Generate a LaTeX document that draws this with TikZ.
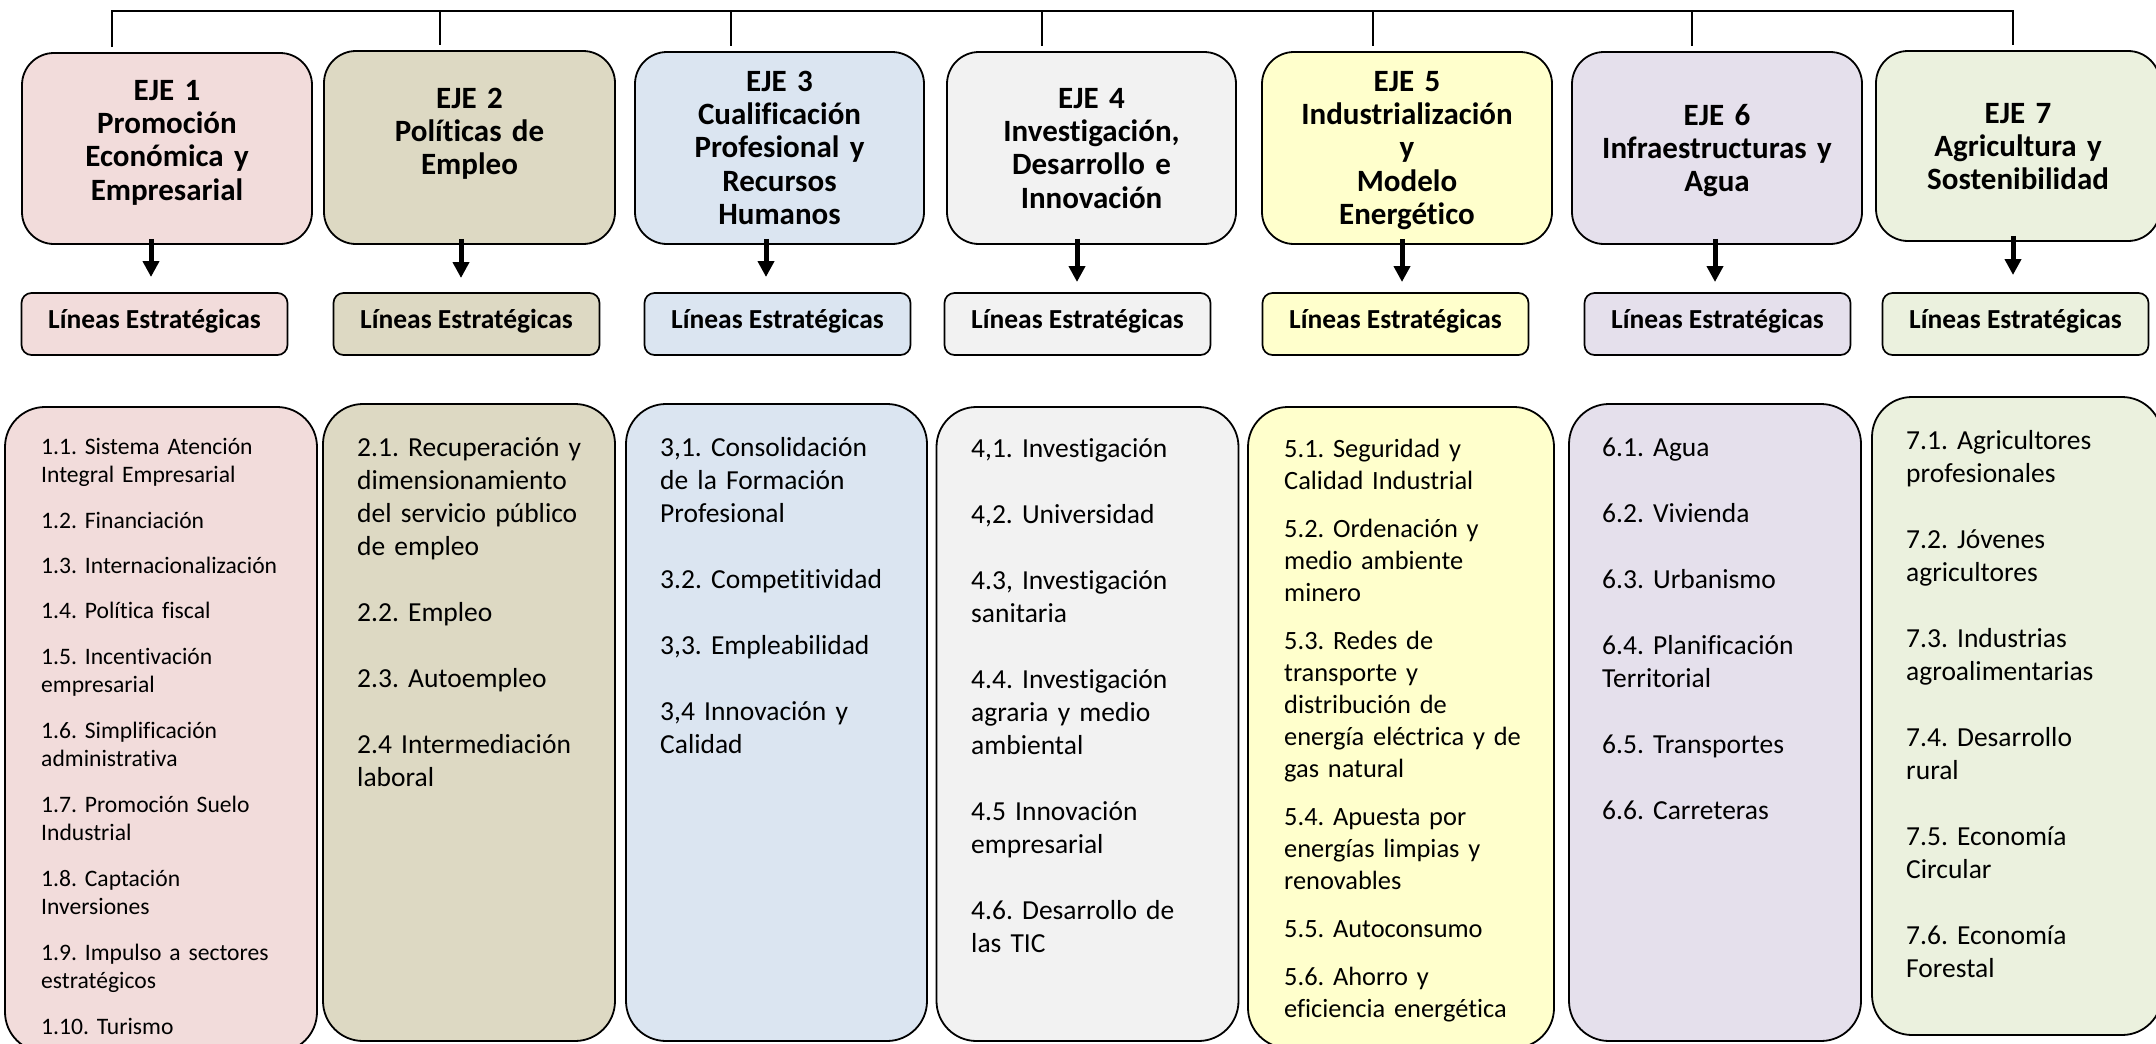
\documentclass[tikz,border=0pt]{standalone}
\usepackage{fontspec}
\setmainfont{Carlito}[Ligatures=NoCommon]
\frenchspacing
\usetikzlibrary{arrows.meta}
\definecolor{ejeA}{HTML}{F2DCDB}
\definecolor{ejeB}{HTML}{DDD9C3}
\definecolor{ejeC}{HTML}{DBE5F1}
\definecolor{ejeD}{HTML}{F2F2F2}
\definecolor{ejeE}{HTML}{FFFFCC}
\definecolor{ejeF}{HTML}{E5E0EC}
\definecolor{ejeG}{HTML}{EBF1DE}
\newcommand{\hdf}{\fontsize{31}{33.4}\selectfont\bfseries}
\newcommand{\lnf}{\fontsize{27.5}{33}\selectfont\bfseries}
\newcommand{\bxf}{\fontsize{27.5}{33}\selectfont}
\newcommand{\bxs}{\fontsize{23.6}{28.6}\selectfont}
\newcommand{\bxm}{\fontsize{26.4}{32}\selectfont}

\begin{document}
\begin{tikzpicture}[x=1pt,y=-1pt,
  eje/.style={draw,line width=1.8pt,rounded corners=32pt,inner sep=0pt},
  lin/.style={draw,line width=1.7pt,rounded corners=10pt,inner sep=0pt,
              minimum width=266pt,minimum height=62pt,text height=14pt,text depth=6pt,font=\lnf},
  lst/.style={draw,line width=1.8pt,rounded corners=40pt,inner sep=0pt},
  hdr/.style={anchor=base,align=center,text width=285pt,inner sep=0pt,font=\hdf},
  txt/.style={anchor=base west,align=left,text width=270pt,inner sep=0pt},
  arr/.style={line width=5pt,shorten <=-6pt,-{Triangle[width=16pt,length=16pt]}},
  con/.style={line width=1.7pt}]
  \useasboundingbox (0,0) rectangle (2156,1044);

  \node[eje,fill=ejeA,minimum width=290pt,minimum height=191pt] (e1) at ( 167.0,148.5) {};
  \node[eje,fill=ejeB,minimum width=291pt,minimum height=193pt] (e2) at ( 469.5,147.5) {};
  \node[eje,fill=ejeC,minimum width=289pt,minimum height=192pt] (e3) at ( 779.5,148.0) {};
  \node[eje,fill=ejeD,minimum width=289pt,minimum height=192pt] (e4) at (1091.5,148.0) {};
  \node[eje,fill=ejeE,minimum width=290pt,minimum height=192pt] (e5) at (1407.0,148.0) {};
  \node[eje,fill=ejeF,minimum width=290pt,minimum height=192pt] (e6) at (1717.0,148.0) {};
  \node[eje,fill=ejeG,minimum width=284pt,minimum height=190pt] (e7) at (2018.0,146.0) {};

  \node[hdr] (h1) at ( 167.0,100) {EJE 1\\Promoción\\Económica y\\Empresarial};
  \node[hdr] (h2) at ( 469.5,108) {EJE 2\\Políticas de\\Empleo};
  \node[hdr] (h3) at ( 779.5, 91) {EJE 3\\Cualificación\\Profesional y\\Recursos\\Humanos};
  \node[hdr] (h4) at (1091.5,108) {EJE 4\\Investigación,\\Desarrollo e\\Innovación};
  \node[hdr] (h5) at (1407.0, 91) {EJE 5\\Industrialización\\y\\Modelo\\Energético};
  \node[hdr] (h6) at (1717.0,125) {EJE 6\\Infraestructuras y\\Agua};
  \node[hdr] (h7) at (2018.0,123) {EJE 7\\Agricultura y\\Sostenibilidad};

  \coordinate (d1) at ( 112,11);
  \coordinate (d2) at ( 440,11);
  \coordinate (d3) at ( 731,11);
  \coordinate (d4) at (1042,11);
  \coordinate (d5) at (1373,11);
  \coordinate (d6) at (1692,11);
  \coordinate (d7) at (2013,11);
  \draw[con,shorten <=5pt,shorten >=5pt] (e1.north -| d1) -- (d1) -- (d7) -- (e7.north -| d7);
  \draw[con,shorten >=5pt] (d2) -- (e2.north -| d2);
  \draw[con,shorten >=5pt] (d3) -- (e3.north -| d3);
  \draw[con,shorten >=5pt] (d4) -- (e4.north -| d4);
  \draw[con,shorten >=5pt] (d5) -- (e5.north -| d5);
  \draw[con,shorten >=5pt] (d6) -- (e6.north -| d6);

  \node[lin,fill=ejeA] (l1) at ( 154.5,324) {Líneas Estratégicas};
  \node[lin,fill=ejeB] (l2) at ( 466.5,324) {Líneas Estratégicas};
  \node[lin,fill=ejeC] (l3) at ( 777.5,324) {Líneas Estratégicas};
  \node[lin,fill=ejeD] (l4) at (1077.5,324) {Líneas Estratégicas};
  \node[lin,fill=ejeE] (l5) at (1395.5,324) {Líneas Estratégicas};
  \node[lin,fill=ejeF] (l6) at (1717.5,324) {Líneas Estratégicas};
  \node[lin,fill=ejeG] (l7) at (2015.5,324) {Líneas Estratégicas};

  \coordinate (a1) at ( 151,277);
  \coordinate (a2) at ( 461,278);
  \coordinate (a3) at ( 766,277);
  \coordinate (a4) at (1077,282);
  \coordinate (a5) at (1402,282);
  \coordinate (a6) at (1715,282);
  \coordinate (a7) at (2013,275);
  \draw[arr] (e1.south -| a1) -- (a1);
  \draw[arr] (e2.south -| a2) -- (a2);
  \draw[arr] (e3.south -| a3) -- (a3);
  \draw[arr] (e4.south -| a4) -- (a4);
  \draw[arr] (e5.south -| a5) -- (a5);
  \draw[arr] (e6.south -| a6) -- (a6);
  \draw[arr] (e7.south -| a7) -- (a7);

  \node[lst,fill=ejeA,minimum width=312pt,minimum height=645pt] (b1) at ( 161.0,729.5) {};
  \node[lst,fill=ejeB,minimum width=292pt,minimum height=637pt] (b2) at ( 469.0,722.5) {};
  \node[lst,fill=ejeC,minimum width=301pt,minimum height=637pt] (b3) at ( 776.5,722.5) {};
  \node[lst,fill=ejeD,minimum width=302pt,minimum height=634pt] (b4) at (1087.5,724.0) {};
  \node[lst,fill=ejeE,minimum width=306pt,minimum height=641pt] (b5) at (1401.0,727.5) {};
  \node[lst,fill=ejeF,minimum width=292pt,minimum height=637pt] (b6) at (1715.0,722.5) {};
  \node[lst,fill=ejeG,minimum width=290pt,minimum height=638pt] (b7) at (2017.0,716.0) {};

  \node[txt,font=\bxs] (t1) at (  41,454) {1.1. Sistema Atención\\Integral Empresarial\\[16.8pt]
    1.2. Financiación\\[16.8pt]1.3. Internacionalización\\[16.8pt]1.4. Política fiscal\\[16.8pt]
    1.5. Incentivación\\empresarial\\[16.8pt]1.6. Simplificación\\administrativa\\[16.8pt]
    1.7. Promoción Suelo\\Industrial\\[16.8pt]1.8. Captación\\Inversiones\\[16.8pt]
    1.9. Impulso a sectores\\estratégicos\\[16.8pt]1.10. Turismo};
  \node[txt,font=\bxf] (t2) at ( 357,456) {2.1. Recuperación y\\dimensionamiento\\del servicio público\\de empleo\\[33pt]
    2.2. Empleo\\[33pt]2.3. Autoempleo\\[33pt]2.4 Intermediación\\laboral};
  \node[txt,font=\bxf] (t3) at ( 660,456) {3,1. Consolidación\\de la Formación\\Profesional\\[33pt]
    3.2. Competitividad\\[33pt]3,3. Empleabilidad\\[33pt]3,4 Innovación y\\Calidad};
  \node[txt,font=\bxf] (t4) at ( 971,457) {4,1. Investigación\\[33pt]4,2. Universidad\\[33pt]
    4.3, Investigación\\sanitaria\\[33pt]4.4. Investigación\\agraria y medio\\ambiental\\[33pt]
    4.5 Innovación\\empresarial\\[33pt]4.6. Desarrollo de\\las TIC};
  \node[txt,font=\bxm] (t5) at (1284,457) {5.1. Seguridad y\\Calidad Industrial\\[16pt]
    5.2. Ordenación y\\medio ambiente\\minero\\[16pt]
    5.3. Redes de\\transporte y\\distribución de\\energía eléctrica y de\\gas natural\\[16pt]
    5.4. Apuesta por\\energías limpias y\\renovables\\[16pt]5.5. Autoconsumo\\[16pt]
    5.6. Ahorro y\\eficiencia energética};
  \node[txt,font=\bxf] (t6) at (1602,456) {6.1. Agua\\[33pt]6.2. Vivienda\\[33pt]6.3. Urbanismo\\[33pt]
    6.4. Planificación\\Territorial\\[33pt]6.5. Transportes\\[33pt]6.6. Carreteras};
  \node[txt,font=\bxf] (t7) at (1906,449) {7.1. Agricultores\\profesionales\\[33pt]7.2. Jóvenes\\agricultores\\[33pt]
    7.3. Industrias\\agroalimentarias\\[33pt]7.4. Desarrollo\\rural\\[33pt]
    7.5. Economía\\Circular\\[33pt]7.6. Economía\\Forestal};
\end{tikzpicture}
\end{document}
